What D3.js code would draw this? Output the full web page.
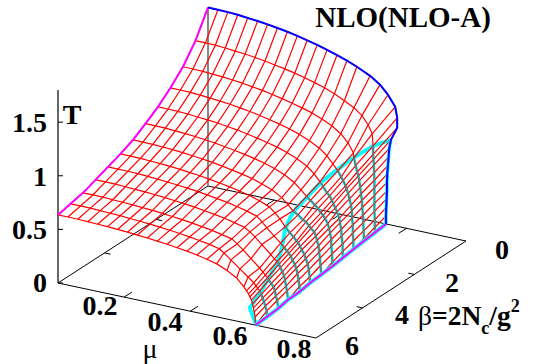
<!DOCTYPE html>
<html>
<head>
    <meta charset="UTF-8">
    <title>NLO(NLO-A)</title>
    <style>
        body { margin: 0; background-color: #fff; }
        svg { display: block; }
        text { font-family: "Liberation Serif", serif; font-weight: bold; fill: #000; }
    </style>
</head>
<body>
<div id="graph-container"></div>
<script src="https://cdn.jsdelivr.net/npm/d3@7"></script>
<script>
    // chemical potential of the mesh lines that run at fixed mu
    let muCommon = [0, .03, .06, .09, .12, .15, .18, .21, .24, .27, .30, .33, .36, .39, .42, .45];
    let betaRows = [0, .483, .967, 1.45, 1.933, 2.417, 2.9, 3.383, 3.867, 4.35, 4.833, 5.317, 5.8];

    // T on each beta row for the columns of muCommon
    let tempTop = [
        [1.664, 1.663, 1.661, 1.656, 1.646, 1.637, 1.626, 1.612, 1.596, 1.577, 1.556, 1.533, 1.506, 1.478, 1.446, 1.408],
        [1.431, 1.430, 1.428, 1.422, 1.412, 1.405, 1.392, 1.379, 1.362, 1.345, 1.325, 1.302, 1.276, 1.248, 1.211, 1.166],
        [1.263, 1.262, 1.260, 1.254, 1.247, 1.238, 1.228, 1.214, 1.200, 1.182, 1.163, 1.140, 1.116, 1.089, 1.052, 1.009],
        [1.142, 1.141, 1.139, 1.133, 1.125, 1.117, 1.107, 1.093, 1.079, 1.061, 1.041, 1.020, .995, .964, .925, .875],
        [1.040, 1.039, 1.037, 1.032, 1.024, 1.017, 1.007, .994, .981, .964, .945, .924, .901, .870, .832, .784],
        [.959, .958, .956, .950, .945, .937, .927, .916, .901, .886, .869, .849, .826, .796, .758, .705],
        [.883, .882, .880, .875, .870, .862, .853, .842, .830, .815, .798, .780, .759, .728, .693, .640],
        [.827, .826, .825, .820, .815, .809, .801, .791, .781, .767, .753, .736, .718, .695, .666, .629],
        [.782, .781, .780, .777, .772, .766, .759, .751, .741, .730, .718, .703, .687, .669, .645, .618],
        [.736, .736, .735, .731, .726, .722, .715, .708, .699, .690, .679, .665, .651, .634, .613, .589],
        [.690, .690, .689, .685, .681, .677, .671, .664, .656, .647, .637, .624, .612, .596, .577, .557],
        [.663, .663, .662, .659, .654, .651, .645, .639, .631, .623, .614, .603, .591, .578, .561, .540],
        [.635, .635, .634, .631, .627, .624, .618, .612, .605, .597, .588, .578, .566, .554, .537, .518]
    ];

    // past the knee each row bends back, so mu and T are both read per row
    let muTail = [
        [.490, .520, .544, .566, .572, .572, .553, .548, .546, .544, .542, .541, .541, .540, .539, .538, .538],
        [.479, .503, .522, .534, .537, .537, .538, .539, .540, .541, .541, .541, .541, .541, .542, .542, .543],
        [.477, .499, .515, .517, .522, .527, .530, .533, .536, .538, .541, .542, .544, .545, .546, .547, .548],
        [.473, .491, .506, .516, .522, .529, .532, .537, .541, .546, .548, .549, .551, .551, .553, .553],
        [.472, .490, .499, .511, .519, .526, .530, .536, .541, .548, .550, .554, .555, .558, .558, .559],
        [.470, .487, .499, .512, .522, .530, .537, .543, .551, .555, .558, .562, .562, .564, .565, .565],
        [.469, .484, .499, .514, .523, .532, .538, .548, .553, .556, .561, .563, .565, .567, .569],
        [.467, .482, .498, .512, .523, .532, .537, .543, .548, .556, .560, .566, .569, .572, .573],
        [.466, .480, .502, .522, .533, .541, .547, .553, .558, .565, .569, .573, .576, .579, .580],
        [.467, .482, .503, .530, .541, .549, .555, .559, .565, .570, .573, .576, .579, .582],
        [.466, .484, .508, .534, .544, .551, .558, .562, .569, .576, .580, .583, .587, .590],
        [.464, .485, .512, .537, .554, .561, .566, .572, .577, .581, .585, .589, .593, .594],
        [.480, .511, .540, .562, .570, .576, .580, .585, .588, .591, .593, .596, .597]
    ];
    let tempTail = [
        [1.35, 1.287, 1.209, 1.111, 1.012, .919, .794, .71, .63, .55, .47, .39, .31, .235, .155, .075, 0],
        [1.121, 1.062, .99, .913, .803, .723, .678, .624, .553, .485, .415, .343, .269, .195, .115, .045, 0],
        [.952, .882, .799, .754, .684, .628, .594, .549, .49, .43, .374, .307, .236, .167, .092, .02, 0],
        [.819, .756, .70, .65, .621, .575, .55, .51, .462, .407, .354, .29, .225, .15, .077, 0],
        [.725, .662, .625, .573, .55, .513, .483, .45, .416, .359, .319, .26, .201, .127, .056, 0],
        [.65, .60, .571, .537, .511, .475, .457, .432, .388, .348, .305, .248, .183, .114, .039, 0],
        [.584, .539, .511, .474, .462, .433, .411, .384, .35, .31, .264, .207, .15, .084, 0],
        [.584, .538, .474, .427, .397, .365, .35, .321, .293, .255, .22, .173, .119, .055, 0],
        [.575, .529, .468, .413, .378, .353, .334, .31, .276, .243, .208, .164, .108, .047, 0],
        [.558, .521, .463, .388, .355, .333, .314, .284, .25, .215, .179, .124, .081, 0],
        [.52, .476, .411, .34, .308, .286, .266, .245, .218, .191, .158, .111, .072, 0],
        [.51, .459, .393, .334, .291, .267, .248, .227, .198, .165, .133, .097, .053, 0],
        [.494, .453, .402, .334, .301, .277, .251, .227, .192, .156, .12, .075, 0]
    ];
    // column at which rows 0 to 11 pass under the cyan line
    let kneeColumn = [22, 20, 19, 18, 17, 17, 17, 18, 20, 21, 22, 23];

    // thick cyan line, one point per beta row and one at the foot
    let cyanMu = [.553, .537, .514, .503, .490, .488, .484, .498, .526, .551, .566, .579, .580, .597];
    let cyanBeta = [0, .483, .967, 1.45, 1.933, 2.417, 2.9, 3.383, 3.867, 4.35, 4.833, 5.317, 5.8, 5.8];
    let cyanT = [.794, .803, .751, .708, .651, .592, .529, .457, .374, .332, .297, .241, .149, .02];

    let tTicks = [0, .5, 1, 1.5];
    let tTickLabels = ["0", "0.5", "1", "1.5"];
    let muTicks = [.2, .4, .6];
    let betaTicks = [2, 4];
    let muMax = .78, betaMax = 5.8, tMax = 1.8;

    let width = 533, height = 364;
    let originX = 58, originY = 283;   // corner mu=0, beta=betaMax, T=0

    let muToX = d3.scaleLinear().domain([0, muMax]).range([0, 258]);
    let muToY = d3.scaleLinear().domain([0, muMax]).range([0, 55]);
    let betaToX = d3.scaleLinear().domain([0, betaMax]).range([150, 0]);
    let betaToY = d3.scaleLinear().domain([0, betaMax]).range([-97, 0]);
    let tToY = d3.scaleLinear().domain([0, tMax]).range([0, -193]);

    function project(mu, beta, t) {
        return [originX + muToX(mu) + betaToX(beta),
                originY + muToY(mu) + betaToY(beta) + tToY(t)];
    }

    let svg = d3.select("#graph-container").append("svg")
        .attr("width", width)
        .attr("height", height);

    let line = d3.line();

    function stroke(points, color, w) {
        return svg.append("path")
            .attr("d", line(points))
            .attr("fill", "none")
            .attr("stroke", color)
            .attr("stroke-width", w)
            .attr("stroke-linejoin", "round");
    }

    // one list of points per beta row
    let rows = betaRows.map((beta, i) => {
        let mus = muCommon.concat(muTail[i]);
        let ts = tempTop[i].concat(tempTail[i]);
        return mus.map((m, k) => project(m, beta, ts[k]));
    });

    // box
    let boxColor = "#000";
    stroke([project(0, betaMax, 0), project(0, 0, 0), project(muMax, 0, 0)], boxColor, 1);
    stroke([project(0, betaMax, 0), project(muMax, betaMax, 0), project(muMax, 0, 0)], boxColor, 1);
    stroke([project(0, betaMax, 0), project(0, betaMax, tMax)], boxColor, 1.2);
    stroke([project(0, 0, 0), project(0, 0, tempTop[0][0])], "#888", 2);

    // ticks
    tTicks.forEach(t => {
        let p = project(0, betaMax, t);
        stroke([p, [p[0] + 5, p[1]]], boxColor, 1);
    });
    muTicks.forEach(m => {
        stroke([project(m, betaMax, 0), project(m, betaMax - .3, 0)], boxColor, 1);
        stroke([project(m, 0, 0), project(m, .3, 0)], boxColor, 1);
    });
    betaTicks.forEach(b => {
        stroke([project(0, b, 0), project(.018, b, 0)], boxColor, 1);
        stroke([project(muMax, b, 0), project(muMax - .018, b, 0)], boxColor, 1);
    });

    // cyan parts sit under the red mesh
    stroke(cyanMu.map((m, i) => project(m, cyanBeta[i], cyanT[i])), "#00ffff", 4);
    kneeColumn.forEach((k, i) => {
        if (i > 0) stroke(rows[i].slice(k), "#00ffff", 2.8);
    });

    // red mesh, beta rows then the columns across them
    rows.forEach(r => stroke(r, "#ff0000", 1.2));
    d3.range(rows[0].length).forEach(k => {
        let col = rows.filter(r => r.length > k).map(r => r[k]);
        stroke(col, "#ff0000", 1.2);
    });

    // red over cyan comes out grey-teal in the reference
    kneeColumn.forEach((k, i) => {
        if (i > 0) stroke(rows[i].slice(k), "#4f8f90", 1.3);
    });

    // edges of the surface
    let foot = rows.map(r => r[r.length - 1]);
    stroke(foot, "#00ffff", 4);
    stroke(foot, "#ff00ff", 2);
    stroke(rows.map(r => r[0]), "#ff00ff", 2);
    stroke(rows[0].slice(kneeColumn[0]), "#00ffff", 3.4);
    stroke(rows[0].slice(kneeColumn[0]), "#0000ff", 2);
    stroke(rows[0].slice(0, kneeColumn[0] + 1), "#0000ff", 2);

    // labels
    function label(str, x, y, size, anchor) {
        return svg.append("text")
            .attr("x", x)
            .attr("y", y)
            .attr("font-size", size)
            .attr("text-anchor", anchor || "middle")
            .text(str);
    }

    let tLabelY = [292, 239, 186, 132];
    tTickLabels.forEach((s, i) => label(s, 47, tLabelY[i], 28, "end"));
    let muLabels = ["0.2", "0.4", "0.6", "0.8"];
    let muLabelX = [100, 165, 230, 294];
    let muLabelY = [315, 331, 345, 358];
    muLabels.forEach((s, i) => label(s, muLabelX[i], muLabelY[i], 28));
    let betaLabels = ["0", "2", "4", "6"];
    let betaLabelX = [502, 452, 402, 352];
    let betaLabelY = [259, 292, 324, 355];
    betaLabels.forEach((s, i) => label(s, betaLabelX[i], betaLabelY[i], 28));

    label("T", 72, 124, 28);
    label("NLO(NLO-A)", 403, 27, 29);
    label("μ", 150, 358, 28).style("font-weight", "normal");

    let betaName = svg.append("text")
        .attr("x", 418)
        .attr("y", 325)
        .attr("font-size", 27.5);
    betaName.append("tspan").style("font-weight", "normal").text("β");
    betaName.append("tspan").text("=2N");
    betaName.append("tspan").attr("dy", 9).attr("font-size", 18).text("c");
    betaName.append("tspan").attr("dy", -9).text("/g");
    betaName.append("tspan").attr("dy", -13).attr("font-size", 18).text("2");
</script>
</body>
</html>
